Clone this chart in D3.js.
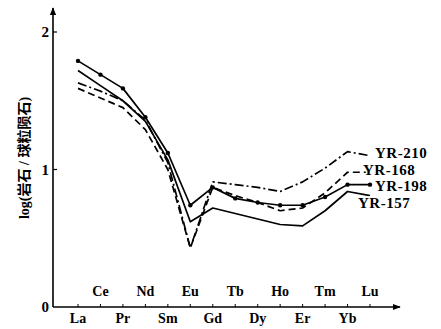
<!DOCTYPE html>
<html>
<head>
<meta charset="utf-8">
<script src="https://cdn.jsdelivr.net/npm/d3@7"></script>
<style>
body { margin: 0; background: #fff; }
svg text { font-family: "Liberation Serif", "Noto Sans CJK SC", serif; font-weight: bold; fill: #000; }
</style>
</head>
<body>
<svg id="gfx" width="441" height="329"></svg>
<script>
var elements = ["La", "Ce", "Pr", "Nd", "Sm", "Eu", "Gd", "Tb", "Dy", "Ho", "Er", "Tm", "Yb", "Lu"];
var yTicks = [0, 1, 2];

var yr210 = [1.63, 1.57, 1.50, 1.36, 1.05, 0.43, 0.91, 0.89, 0.87, 0.84, 0.91, 1.01, 1.13, 1.10];
var yr168 = [1.59, 1.52, 1.45, 1.29, 1.00, 0.43, 0.87, 0.81, 0.76, 0.70, 0.72, 0.83, 0.98, 0.98];
var yr198 = [1.79, 1.69, 1.59, 1.38, 1.12, 0.74, 0.87, 0.79, 0.76, 0.74, 0.74, 0.80, 0.89, 0.89];
var yr157 = [1.72, 1.61, 1.50, 1.35, 1.07, 0.62, 0.72, 0.68, 0.64, 0.60, 0.59, 0.70, 0.84, 0.81];

var seriesNames = ["YR-210", "YR-168", "YR-198", "YR-157"];

function draw() {
    var svg = d3.select("#gfx");

    var x = d3.scalePoint().domain(elements).range([78, 370]);
    var y = d3.scaleLinear().domain([0, 2]).range([307, 32]);

    var series = [
        { name: seriesNames[0], values: yr210, dash: "9,3,2,3", dots: false, lx: 375, ly: 158 },
        { name: seriesNames[1], values: yr168, dash: "7,4", dots: false, lx: 363, ly: 175 },
        { name: seriesNames[2], values: yr198, dash: null, dots: true, lx: 375, ly: 191 },
        { name: seriesNames[3], values: yr157, dash: null, dots: false, lx: 358, ly: 208 }
    ];

    // arrow head
    svg.append("defs").append("marker")
        .attr("id", "arrow")
        .attr("viewBox", "0 0 10 10")
        .attr("refX", 9).attr("refY", 5)
        .attr("markerWidth", 8).attr("markerHeight", 8)
        .attr("markerUnits", "userSpaceOnUse")
        .attr("orient", "auto")
        .append("path").attr("d", "M0,1 L10,5 L0,9 Z").attr("fill", "#000");

    var x0 = 53, y0 = y(0);

    // axes
    svg.append("line")
        .attr("x1", x0).attr("y1", y0).attr("x2", x0).attr("y2", 8)
        .attr("stroke", "#000").attr("stroke-width", 1.6)
        .attr("marker-end", "url(#arrow)");
    svg.append("line")
        .attr("x1", x0).attr("y1", y0).attr("x2", 400).attr("y2", y0)
        .attr("stroke", "#000").attr("stroke-width", 1.6)
        .attr("marker-end", "url(#arrow)");

    // y ticks
    var yt = svg.append("g").attr("class", "ytick");
    yt.selectAll("line").data(yTicks.filter(d => d > 0)).enter()
        .append("line")
        .attr("x1", x0).attr("x2", x0 + 4)
        .attr("y1", d => y(d)).attr("y2", d => y(d))
        .attr("stroke", "#000").attr("stroke-width", 1.2);
    yt.selectAll("text").data(yTicks).enter()
        .append("text")
        .attr("x", x0 - 4).attr("y", d => y(d) + 5)
        .attr("text-anchor", "end")
        .style("font-size", "15px")
        .text(d => d);

    // x ticks and labels
    var xt = svg.append("g").attr("class", "xtick");
    xt.selectAll("line").data(elements).enter()
        .append("line")
        .attr("x1", d => x(d)).attr("x2", d => x(d))
        .attr("y1", y0).attr("y2", y0 - 3)
        .attr("stroke", "#000").attr("stroke-width", 1);
    xt.selectAll("text").data(elements).enter()
        .append("text")
        .attr("x", d => x(d))
        .attr("y", (d, i) => i % 2 === 0 ? y0 + 16 : y0 - 11)
        .attr("text-anchor", "middle")
        .style("font-size", "14px")
        .text(d => d);

    // y axis title
    svg.append("text")
        .attr("transform", "translate(29,158) rotate(-90)")
        .attr("text-anchor", "middle")
        .style("font-size", "14px")
        .text("log(岩石 / 球粒陨石)");

    var line = d3.line()
        .x((d, i) => x(elements[i]))
        .y(d => y(d));

    var g = svg.append("g").attr("class", "curves");
    series.forEach(function(s) {
        g.append("path")
            .datum(s.values)
            .attr("d", line)
            .attr("fill", "none")
            .attr("stroke", "#000")
            .attr("stroke-width", 1.7)
            .attr("stroke-linejoin", "round")
            .attr("stroke-dasharray", s.dash);
        if (s.dots) {
            g.selectAll("circle.dot").data(s.values).enter()
                .append("circle").attr("class", "dot")
                .attr("cx", (d, i) => x(elements[i]))
                .attr("cy", d => y(d))
                .attr("r", 2.2)
                .attr("fill", "#000");
        }
    });

    // series labels, with a white halo so they sit over the line ends
    svg.append("g").attr("class", "labels")
        .selectAll("text").data(series).enter()
        .append("text")
        .attr("x", d => d.lx).attr("y", d => d.ly)
        .style("font-size", "15px")
        .style("letter-spacing", "0.5px")
        .style("paint-order", "stroke")
        .attr("stroke", "#fff").attr("stroke-width", 3)
        .text(d => d.name);
}

draw();
</script>
</body>
</html>
